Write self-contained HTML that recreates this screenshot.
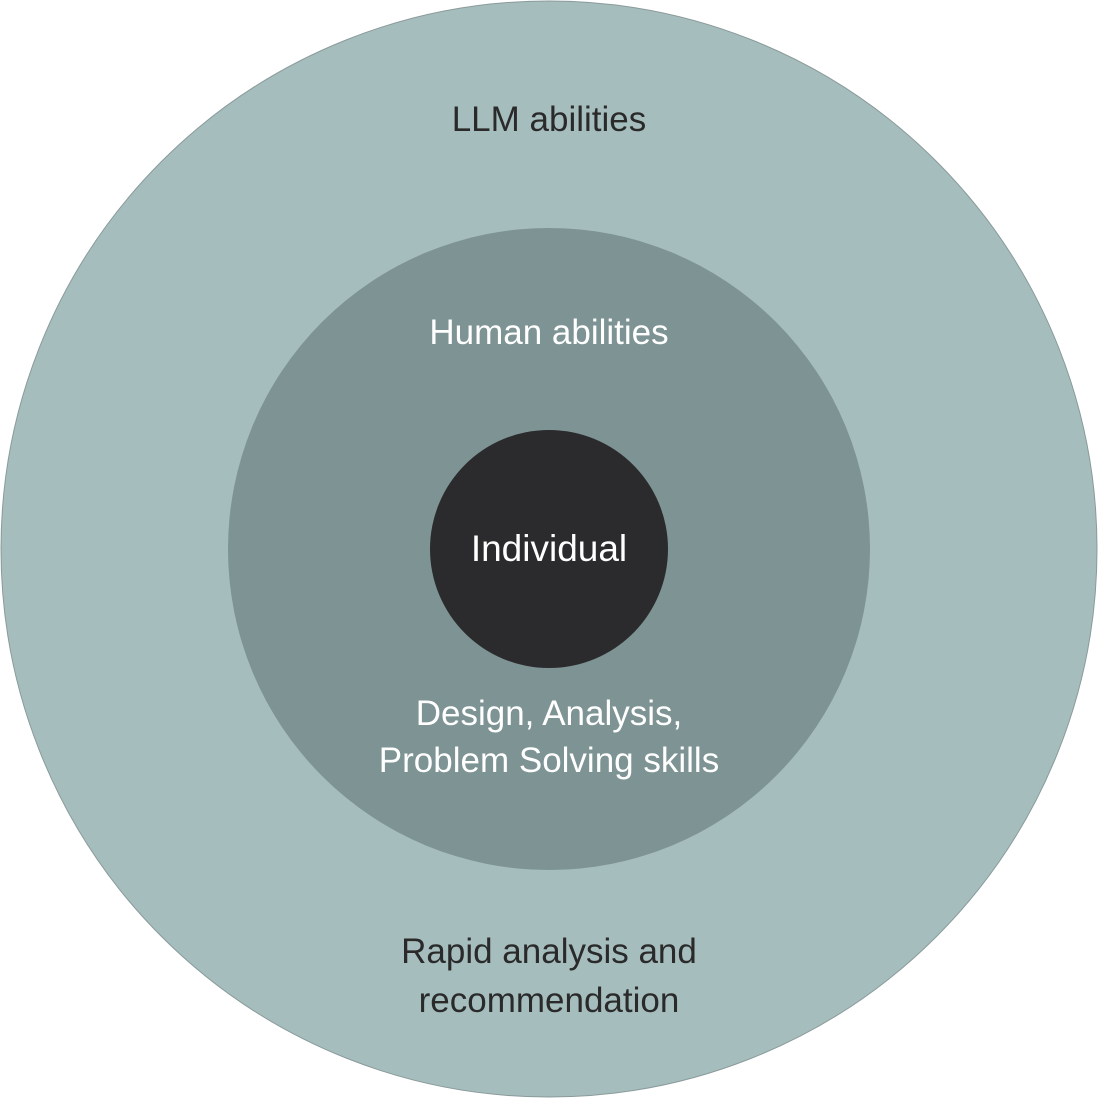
<!DOCTYPE html>
<html><head><style>
html,body{margin:0;padding:0;background:#fff;}
svg{display:block;}
text{font-family:"Liberation Sans",sans-serif;text-anchor:middle;}
</style></head><body>
<svg width="1100" height="1100" viewBox="0 0 1100 1100">
<circle cx="549" cy="549" r="548" fill="#a6bdbe" stroke="#8a9a9a" stroke-width="1"/>
<circle cx="549" cy="549" r="321" fill="#7e9394"/>
<circle cx="549" cy="549" r="119" fill="#2b2b2d"/>
<text x="549" y="131" font-size="35" fill="#2a2a2a">LLM abilities</text>
<text x="549" y="344" font-size="35" fill="#ffffff">Human abilities</text>
<text x="549" y="561" font-size="37" fill="#ffffff">Individual</text>
<text x="549" y="725" font-size="35" fill="#ffffff">Design, Analysis,</text>
<text x="549" y="772" font-size="35" fill="#ffffff">Problem Solving skills</text>
<text x="549" y="963" font-size="35" fill="#2a2a2a">Rapid analysis and</text>
<text x="549" y="1012" font-size="35" fill="#2a2a2a">recommendation</text>
</svg>
</body></html>
